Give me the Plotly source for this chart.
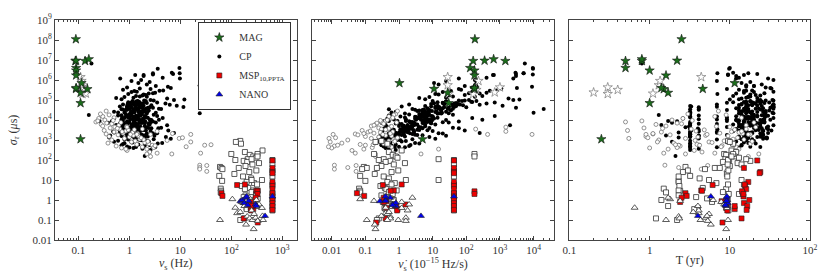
import plotly.graph_objects as go
from plotly.subplots import make_subplots

# ---------------- CP (filled black dots) ----------------
cp_sigma = ([6.6e6, 1.8e6, 1.8e6, 1.6e6, 2.2e6, 1.9e6, 3.6e6, 2.3e6, 2.0e6, 4.0e6,
             2.2e6, 1.2e6, 1.2e6, 4.6e5, 4.0e5, 5e5, 5.5e5, 6e5, 7e5, 8e5,
             9e5, 5e5, 1e6, 4.2e5, 1.3e6]
            + [1.1e5, 1.3e5, 1.5e5, 1.8e5, 2.0e5, 2.3e5, 2.6e5, 3.0e5, 3.5e5, 1.2e5,
               1.4e5, 1.7e5, 2.1e5, 2.5e5, 2.9e5, 3.3e5, 1.0e5, 1.6e5, 1.9e5, 2.2e5,
               2.8e5, 1.25e5, 1.45e5, 3.8e5, 1.05e5]
            + [2.1e4, 2.4e4, 2.7e4, 3.0e4, 3.3e4, 3.6e4, 4.0e4, 4.5e4, 5.0e4, 5.5e4,
               6.0e4, 6.6e4, 7.2e4, 8.0e4, 8.8e4, 9.5e4, 2.2e4, 2.6e4, 2.9e4, 3.2e4,
               3.5e4, 3.9e4, 4.3e4, 4.8e4, 5.3e4, 5.8e4, 6.4e4, 7.0e4, 7.7e4, 8.5e4,
               2.3e4, 2.8e4, 3.4e4, 4.1e4, 4.6e4, 5.2e4, 6.2e4, 7.5e4, 9.0e4, 3.5e4]
            + [5.2e3, 5.6e3, 6.0e3, 6.5e3, 7.0e3, 7.5e3, 8.0e3, 8.6e3, 9.2e3, 1.0e4,
               1.07e4, 1.15e4, 1.25e4, 1.35e4, 1.45e4, 1.55e4, 1.7e4, 1.85e4, 1.95e4, 5.4e3,
               5.9e3, 6.3e3, 6.8e3, 7.3e3, 7.9e3, 8.4e3, 9.0e3, 9.7e3, 1.04e4, 1.1e4,
               1.2e4, 1.3e4, 1.4e4, 1.5e4, 1.65e4, 1.8e4, 5.7e3, 6.7e3, 7.7e3, 8.8e3,
               1.02e4, 1.18e4, 1.33e4, 1.6e4, 1.9e4]
            + [1.5e3, 1.6e3, 1.75e3, 1.9e3, 2.0e3, 2.2e3, 2.4e3, 2.6e3, 2.8e3, 3.0e3,
               3.2e3, 3.5e3, 3.8e3, 4.1e3, 4.5e3, 4.9e3, 1.55e3, 1.7e3, 1.85e3, 2.1e3,
               2.3e3, 2.5e3, 2.7e3, 2.95e3, 3.3e3, 3.6e3, 4.0e3, 4.4e3, 4.8e3, 1.65e3,
               1.8e3, 2.05e3, 2.35e3, 2.65e3, 3.1e3, 3.4e3, 3.9e3, 4.3e3, 4.7e3, 2.25e3]
            + [3.2e2, 3.6e2, 4.0e2, 4.4e2, 4.8e2, 5.3e2, 5.8e2, 6.4e2, 7.0e2, 7.7e2,
               8.5e2, 9.3e2, 1.0e3, 1.1e3, 1.2e3, 1.3e3, 1.4e3, 4.2e2, 4.6e2, 5.0e2,
               5.5e2, 6.0e2, 6.7e2, 7.4e2, 8.1e2, 8.9e2, 9.7e2, 1.05e3, 1.15e3, 1.25e3,
               1.35e3, 4.5e2, 5.6e2, 6.9e2, 1.6e2]
            + [1.1e3, 1.4e3, 1.8e3, 2.3e3, 2.9e3, 3.7e3, 4.7e3, 6.0e3, 7.6e3, 9.7e3,
               1.2e4, 1.6e4, 2.0e4, 2.5e4, 3.2e4, 4.1e4, 5.2e4, 6.6e4, 8.4e4, 1.0e5,
               1.05e3, 1.35e3, 1.7e3, 2.15e3, 2.75e3, 3.5e3, 4.4e3, 5.6e3, 7.1e3, 9.0e3,
               1.15e4, 1.45e4, 1.85e4, 2.35e4, 3.0e4, 3.8e4, 4.8e4, 6.1e4, 7.8e4, 9.5e4,
               1.25e3, 1.55e3, 1.95e3, 2.45e3, 3.1e3, 3.9e3, 5.0e3, 6.3e3, 8.0e3, 1.02e4,
               1.3e4, 1.65e4, 2.1e4, 2.65e4, 3.35e4, 4.3e4, 5.5e4, 7.0e4, 8.9e4, 6.8e4,
               1.0e3, 1.9e3, 2.5e3, 3.3e3, 4.2e3, 5.3e3, 6.8e3, 8.6e3, 1.1e4, 1.4e4,
               1.75e4, 2.2e4, 2.8e4, 3.6e4, 4.6e4, 5.9e4, 7.4e4, 1.5e3, 2.7e3, 4.6e3,
               7.3e3, 1.25e4, 2.05e4, 3.1e4, 5.0e4, 1.6e3, 3.0e3, 5.1e3, 8.3e3, 1.55e4,
               2.4e4, 3.9e4, 6.3e4, 1.2e3, 2.1e3, 3.6e3, 6.5e3, 1.05e4, 1.7e4, 2.7e4,
               4.4e4, 8.1e4, 1.45e3, 2.2e3, 3.4e3, 5.8e3, 9.4e3, 1.5e4, 2.6e4, 3.4e4,
               5.6e4, 1.3e3, 2.0e3, 3.2e3, 5.4e3, 8.8e3, 1.35e4, 2.3e4, 3.7e4, 6.0e4])
cp_nu = ([0.18, 1.3, 1.9, 1.9, 2.9, 2.9, 3.6, 6.8, 7.2, 9.6,
          9.7, 9.8, 0.66, 5.7, 6.5, 24, 24, 2.2, 1.5, 2.5,
          1.1, 3.3, 1.7, 0.9, 4.5]
         + [0.7, 1.2, 1.6, 2.1, 0.95, 3.2, 1.4, 4.6, 2.6, 5.5,
            0.8, 1.8, 2.4, 1.1, 3.9, 0.75, 7.5, 1.35, 1.9, 2.9,
            1.25, 0.55, 2.2, 1.6, 12]
         + [1.1, 0.6, 2.3, 1.5, 0.9, 3.8, 1.8, 11.5, 1.3, 2.7,
            0.75, 5.1, 1.6, 2.0, 1.15, 3.0, 24, 0.5, 1.9, 0.85,
            4.2, 1.4, 2.5, 0.65, 1.7, 6.2, 1.05, 2.2, 0.95, 1.45,
            3.3, 1.25, 0.7, 2.9, 1.55, 8.5, 1.2, 3.5, 2.1, 1.0]
         + [1.2, 0.55, 2.4, 0.8, 1.6, 3.3, 1.0, 0.45, 1.9, 2.7,
            0.7, 1.35, 4.5, 0.95, 2.1, 1.15, 0.6, 3.0, 1.75, 5.5,
            1.45, 0.9, 2.0, 0.38, 1.25, 2.9, 0.75, 1.55, 3.8, 1.05,
            0.5, 2.3, 1.3, 0.85, 1.65, 0.16, 1.1, 0.65, 2.6, 0.26,
            1.4, 1.85, 0.72, 3.5, 1.0]
         + [1.3, 0.7, 2.2, 0.9, 1.6, 3.5, 0.5, 1.1, 2.6, 0.8,
            1.9, 1.25, 0.6, 4.2, 1.45, 2.0, 0.95, 0.42, 1.7, 2.9,
            1.05, 0.65, 1.5, 5.8, 0.85, 1.35, 2.4, 0.55, 1.15, 3.1,
            1.8, 0.75, 1.2, 0.48, 2.1, 1.0, 3.7, 1.55, 0.68, 7.5]
         + [2.6, 1.8, 1.2, 3.2, 0.9, 2.0, 1.4, 0.75, 4.4, 1.1,
            2.4, 0.6, 1.6, 3.0, 0.85, 1.3, 5.2, 1.0, 1.9, 2.8,
            0.7, 1.5, 3.6, 1.15, 0.5, 2.2, 1.7, 0.95, 6.5, 1.25,
            0.4, 1.35, 2.5, 0.8, 2.0]
         + [1.4, 0.9, 2.1, 1.1, 1.7, 0.75, 1.3, 2.5, 1.0, 1.6,
            1.2, 2.0, 0.85, 1.5, 1.25, 2.3, 1.05, 1.8, 1.35, 2.6,
            0.8, 1.6, 1.2, 2.8, 0.95, 1.45, 2.2, 1.1, 1.75, 0.7,
            1.9, 1.0, 1.55, 0.8, 2.4, 1.3, 0.9, 1.65, 1.15, 1.95,
            2.0, 1.15, 0.65, 1.5, 1.25, 2.7, 0.85, 1.4, 1.9, 1.2,
            1.0, 1.35, 2.2, 1.1, 0.75, 1.6, 1.85, 1.2, 1.45, 0.95,
            1.7, 1.35, 0.8, 1.95, 1.05, 1.3, 2.4, 0.9, 1.55, 1.25,
            0.7, 1.75, 1.15, 2.1, 0.9, 1.4, 1.1, 2.3, 1.0, 1.65,
            1.2, 0.8, 1.6, 1.3, 1.9, 1.05, 1.45, 0.75, 2.05, 1.5,
            1.25, 0.9, 1.5, 1.8, 0.85, 1.15, 1.35, 2.5, 0.95, 1.7,
            1.1, 1.55, 1.0, 2.2, 1.6, 0.88, 1.25, 1.45, 2.0, 1.2,
            1.3, 1.9, 1.45, 0.82, 1.15, 1.7, 2.1, 1.05, 1.5, 0.92])
cp_nudot = ([5500, 620, 660, 3000, 5100, 9500, 9600, 2900, 3000, 9500,
             5000, 2500, 60, 9000, 3200, 200, 180, 15, 11, 200,
             25, 90, 180, 150, 400]
            + [6, 25, 40, 90, 12, 400, 150, 800, 60, 1800,
               8, 30, 250, 20, 500, 70, 2500, 300, 15, 120,
               35, 4, 180, 1100, 3800]
            + [1.5, 0.6, 8, 4, 3, 40, 12, 15, 6, 80,
               2, 400, 20, 150, 10, 60, 30, 0.8, 18, 5,
               2e4, 7, 100, 1.2, 35, 250, 9, 50, 14, 25,
               1e4, 3.5, 0.5, 3000, 45, 1200, 22, 700, 200, 2.5]
            + [1.8, 0.4, 12, 1.0, 5, 30, 2.5, 0.35, 8, 25,
               0.7, 3, 150, 1.5, 10, 4, 0.5, 40, 6, 2000,
               3.5, 1.2, 9, 0.3, 2.2, 60, 0.9, 5.5, 300, 1.6,
               0.45, 14, 3.2, 1.1, 7, 0.6, 2.8, 0.8, 20, 0.5,
               4.5, 11, 0.65, 700, 2.0]
            + [1.5, 0.4, 5, 0.8, 2.5, 15, 0.3, 1.2, 10, 0.6,
               4, 1.8, 0.35, 40, 2.2, 6, 0.9, 0.28, 3, 20,
               1.0, 0.5, 2.8, 90, 0.7, 1.6, 8, 0.45, 1.3, 25,
               3.5, 0.55, 1.4, 0.32, 7, 1.1, 60, 2.0, 0.42, 250]
            + [0.8, 0.5, 0.4, 1.5, 0.35, 0.6, 0.45, 0.3, 3, 0.5,
               1.2, 0.28, 0.9, 2.5, 0.32, 0.7, 8, 0.4, 1.0, 2.0,
               0.3, 0.8, 4, 0.55, 0.26, 1.6, 1.1, 0.42, 12, 0.65,
               0.25, 0.75, 2.2, 0.33, 0.9]
            + [0.5, 0.35, 1.2, 0.8, 1.5, 0.6, 2.5, 6, 2.2, 5,
               3.5, 9, 4, 12, 8, 30, 14, 45, 25, 120,
               0.4, 0.9, 0.55, 2.8, 0.7, 1.3, 4.5, 1.8, 5.5, 1.6,
               10, 3, 8, 5, 35, 15, 9, 60, 28, 90,
               0.45, 0.75, 0.5, 1.8, 1.1, 5, 1.0, 2.6, 7, 3.2,
               4.2, 7, 18, 6, 5.5, 22, 40, 20, 75, 11,
               0.3, 1.4, 0.6, 3.5, 1.6, 2.4, 9, 2.0, 6.5, 4.8,
               4.5, 16, 9.5, 30, 12, 38, 24, 0.7, 1.3, 3.8,
               2.8, 4.0, 14, 7.5, 50, 0.9, 1.9, 1.4, 6, 10,
               7, 20, 55, 0.5, 0.95, 2.3, 3.0, 8, 5.2, 13,
               16, 140, 0.65, 2.1, 1.7, 2.9, 9.5, 6.5, 25, 17,
               35, 0.55, 1.0, 2.7, 2.5, 7.5, 5.8, 19, 28, 65])
cp_T = ([0.8, 9.5, 15, 12, 17, 9.5, 9.8, 11, 22, 10,
         7, 12, 30, 16, 32, 20, 16, 25, 14, 18,
         6.9, 20, 35, 28, 13]
        + [13, 16, 18, 21, 7, 15, 35, 19, 9.2, 14,
           17, 24, 12, 20, 16, 13, 34, 11, 18, 27,
           15, 22, 17, 33, 10]
        + [3.2, 3.2, 14, 17, 4.1, 21, 16, 35, 3.2, 19,
           6.9, 24, 9.2, 15, 18, 35, 35, 3.2, 13, 9.2,
           17, 12, 16, 3.3, 22, 35, 14, 20, 11, 18,
           28, 15, 3.2, 13, 6.9, 34, 19, 16, 23, 4.1]
        + [3.2, 1.4, 15, 4.1, 18, 21, 3.2, 2.2, 13, 24,
           6.9, 16, 35, 3.2, 17, 12, 4.1, 19, 14, 35,
           11, 3.2, 20, 1.9, 15, 27, 9.2, 13, 32, 4.1,
           2.6, 18, 16, 6.9, 22, 1.3, 14, 3.2, 25, 1.7,
           12, 17, 9.2, 28, 19]
        + [3.2, 4.1, 15, 3.2, 17, 19, 2.3, 6.9, 13, 3.3,
           16, 12, 4.0, 22, 9.2, 14, 3.2, 1.6, 18, 24,
           6.9, 3.2, 11, 26, 4.1, 15, 20, 2.8, 13, 17,
           9.2, 3.2, 16, 4.1, 21, 7.0, 25, 14, 3.1, 30]
        + [3.2, 4.1, 3.2, 6.9, 3.2, 14, 4.1, 3.2, 17, 9.2,
           12, 3.2, 16, 19, 4.1, 15, 22, 13, 18, 3.2,
           2.3, 11, 21, 15, 1.9, 20, 16, 6.9, 26, 17,
           2.3, 24, 14, 3.2, 2.1]
        + [14, 3.2, 26, 18, 13, 3.2, 30, 15, 27, 12,
           19, 28, 3.2, 22, 16, 32, 35, 21, 25, 24,
           16, 29, 4.1, 17, 26, 3.2, 15, 24, 18, 12.5,
           27, 15, 20, 3.2, 31, 23, 16, 35, 19, 28,
           13, 25, 3.2, 19, 16, 29, 21, 6.9, 17, 26,
           18, 30, 13, 19, 24, 35, 17, 27, 22, 16,
           15, 26, 3.2, 14, 29, 16, 23, 15, 9.2, 20,
           25, 16, 28, 15, 35, 19, 31, 13, 16, 24,
           21, 15, 27, 17, 25, 16, 33, 18, 15, 3.2,
           18, 26, 16, 29, 17, 22, 13, 20, 27, 17,
           4.1, 16, 24, 18, 30, 17, 19, 22, 26, 16,
           13, 28, 15, 23, 19, 25, 18, 34, 35, 14])

# ---------------- CP, open circles ----------------
oc_sigma = [8e3, 1.2e4, 6e3, 9e3, 5e3, 3e3, 2e3, 1.5e3, 1e3, 7e2,
            5e2, 4e2, 3e2, 2.5e2, 4e3, 2.5e3, 1.8e3, 1.2e3, 8e2, 6e2,
            1.5e4, 2e4, 1e4, 7e3, 3.5e3, 2.2e3, 1.4e3, 9e2, 4.5e2, 3.5e2,
            6.5e3, 4.5e3, 2.8e3, 1.7e3, 1.1e3, 7.5e2, 5.5e2, 2.8e4, 1.8e4, 1.3e4,
            5.5e3, 3.2e3, 2.4e3, 1.6e3, 1.05e3, 6.5e2, 4.2e2, 2.2e2, 1.5e2, 3.8e3,
            2.6e3, 1.9e3, 1.3e3, 8.5e2, 5.2e2, 9.5e3, 7.5e3, 4.8e3, 3.3e3, 2.1e3,
            1.2e3, 1.9e3, 8e2, 5.5e2, 5.8e2, 2.2e2, 55, 42, 35, 53,
            27, 2e2, 1.3e3, 2.1e3, 4.6e2, 9.5e2,
            3.5e3, 1.9e3, 4.4e3, 2.7e3, 1.9e3, 2e2, 3.5e2]
oc_nu = [0.22, 0.25, 0.28, 0.24, 0.3, 0.32, 0.35, 0.4, 0.45, 0.38,
         0.55, 0.7, 0.9, 2.5, 0.42, 0.5, 0.6, 0.8, 1.1, 1.4,
         0.3, 0.27, 0.33, 0.36, 0.65, 0.75, 1.0, 1.3, 1.8, 2.2,
         0.45, 0.52, 0.85, 1.2, 1.6, 2.0, 2.8, 0.35, 0.4, 0.5,
         0.62, 0.95, 1.15, 1.5, 1.9, 2.4, 3.0, 3.5, 2.6, 0.58,
         0.72, 1.05, 1.7, 2.3, 3.2, 0.48, 0.68, 0.88, 1.25, 1.45,
         9.5, 16, 16, 30, 40, 25, 24, 24, 24, 33,
         33, 6.8, 11, 7, 13, 5.5,
         1.8, 2.6, 0.9, 3.5, 1.4, 2.2, 0.85]
oc_nudot = [0.3, 0.6, 0.2, 0.4, 0.15, 0.08, 0.05, 0.1, 0.03, 0.02,
            0.012, 0.01, 0.04, 0.5, 0.25, 0.12, 0.06, 0.15, 0.35, 0.07,
            0.5, 0.8, 0.45, 0.22, 0.3, 0.18, 0.25, 0.5, 0.6, 0.09,
            0.35, 0.55, 0.14, 0.4, 0.7, 0.2, 0.015, 0.9, 0.7, 0.65,
            0.18, 0.45, 0.28, 0.6, 0.8, 0.35, 0.16, 0.7, 0.2, 0.5,
            0.65, 0.33, 0.9, 0.75, 0.5, 0.28, 0.85, 0.6, 0.4, 0.55,
            0.0083, 0.011, 0.009, 0.1, 0.17, 0.05, 0.012, 0.03, 0.012, 0.053,
            0.053, 0.2, 0.013, 0.09, 0.008, 0.3,
            190, 430, 1500, 1500, 9000, 4.5, 15]
oc_T = [0.5, 2.6, 1.2, 0.8, 1.6, 0.53, 1.1, 0.9, 1.3, 2.0,
        2.4, 1.0, 3.6, 4.5, 0.85, 1.4, 1.8, 2.8, 5.5, 3.9,
        6.5, 3.0, 1.9, 2.2, 3.3, 7.5, 4.0, 8.5, 12, 1.7,
        2.5, 10, 3.8, 5.0, 11, 6.0, 2.3, 7.2, 9.0, 14,
        16, 4.8, 13, 9.5, 15, 18, 2.2, 1.5, 17, 1.45,
        10.5, 5.2, 12.5, 19, 8.0, 3.4, 20, 6.8, 11.5, 14.5,
        0.55, 0.9, 1.25, 4.2, 2.1, 6.5, 1.55, 2.3, 4.4, 5.3,
        9, 2.8, 0.95, 1.1, 7.8, 3.7,
        16, 18, 21, 14, 17, 23, 13]

# ---------------- MSP, open squares ----------------
sq_sigma = [45, 40, 35, 16, 9, 3.7, 2.9,
            900, 650, 800, 300, 250, 200, 180, 150, 130, 110,
            100, 90, 80, 70, 60, 50, 40, 30, 25, 20,
            15, 12, 10, 8, 7, 6, 5, 4, 3.5, 3,
            2.5, 2, 1.7, 1.4, 1.2, 1.0, 0.8, 0.6, 0.5, 0.4,
            100, 60, 30, 15, 6, 2, 1, 0.5, 0.3,
            200, 150, 110, 10, 2.4, 0.12, 0.1, 0.35]
sq_nu = [60, 64, 67, 58, 66, 62, 63,
         150, 155, 123, 410, 185, 100, 230, 270, 300, 210,
         120, 175, 205, 350, 260, 190, 140, 310, 225, 115,
         170, 245, 400, 200, 280, 320, 160, 215, 185, 270,
         250, 305, 190, 175, 330, 290, 165, 240, 320, 200,
         642, 642, 642, 642, 642, 642, 642, 642, 642,
         327, 327, 250, 250, 62, 180, 150, 200]
sq_nudot = [0.09, 0.11, 0.08, 0.07, 0.1, 0.065, 0.07,
            0.3, 0.45, 0.2, 1.2, 0.5, 0.18, 0.65, 0.8, 0.9, 0.35,
            0.25, 0.55, 0.4, 1.5, 0.7, 0.3, 0.22, 0.95, 0.6, 0.19,
            0.35, 0.5, 1.6, 0.45, 0.75, 0.6, 0.28, 0.38, 0.42, 0.85,
            0.5, 0.65, 0.3, 0.42, 0.55, 0.7, 0.33, 0.48, 0.62, 0.37,
            43, 43, 43, 43, 43, 43, 43, 43, 43,
            175, 175, 15, 15, 0.07, 0.25, 0.22, 0.4]
sq_T = [2.8, 6.5, 4.9, 3.2, 2.3, 1.5, 2.4,
        9.5, 11, 10, 10.5, 12, 8.5, 9, 11.5, 13, 8.8,
        9.8, 18, 8.2, 12.5, 14, 10, 7.5, 3.0, 2.6, 9.2,
        2.3, 4.2, 5.5, 2.3, 6.8, 15, 2.35, 4.6, 9, 2.3,
        8.2, 13, 2.3, 3.8, 5.2, 1.4, 6.0, 8.8, 1.7, 4.0,
        9.5, 9.4, 9.6, 9.3, 9.5, 9.7, 9.4, 9.5, 9.6,
        11, 10.5, 16, 14, 1.6, 1.2, 2.2, 3.6]

# ---------------- MSP_10,PPTA, red squares ----------------
msp_sigma = [95, 40, 25, 22, 8, 5, 3.5, 2.2, 1.5, 1.0, 0.7, 0.5, 0.32,
             2.2, 1.6, 5.6, 6.0, 3.0, 2.9, 2.7, 2.0, 0.87, 0.6, 0.4,
             0.35, 0.3, 0.12, 0.075, 0.8, 1.3, 0.5]
msp_nu = [642, 642, 642, 642, 642, 642, 642, 642, 642, 642, 642, 642, 642,
          64, 67, 130, 185, 330, 310, 327, 327, 210, 190, 240,
          270, 245, 175, 330, 245, 300, 260]
msp_nudot = [43, 43, 43, 43, 43, 43, 43, 43, 43, 43, 43, 43, 43,
             0.056, 0.092, 0.33, 1.2, 0.7, 0.56, 175, 175, 0.42, 1.55, 0.42,
             0.9, 0.88, 0.4, 0.21, 0.35, 0.35, 0.83]
msp_T = [22, 15, 24, 23.5, 17, 15.5, 16, 14.5, 14.8, 17.5, 15, 16.5, 16.2,
         2.8, 2.9, 6.1, 15.3, 4.4, 4.5, 14.2, 14.8, 7.9, 9.2, 9.0,
         11.5, 9.3, 14, 8.1, 2.4, 2.5, 11.5]

# ---------------- NANO, open triangles ----------------
tr_sigma = [0.1, 1.1, 0.41, 0.22, 0.059, 0.035, 0.15, 0.12, 0.1, 0.13,
            0.09, 0.5, 0.8, 1.3, 0.3, 0.2, 0.9, 0.6, 0.4, 0.16,
            0.1, 1.0, 0.25]
tr_nu = [60, 105, 120, 130, 195, 275, 205, 230, 260, 300,
         330, 180, 160, 225, 250, 280, 195, 350, 400, 410,
         420, 310, 150]
tr_nudot = [0.11, 0.07, 0.4, 0.4, 0.19, 0.2, 0.55, 0.55, 0.95, 1.6,
            1.6, 0.8, 1.2, 2.5, 1.8, 0.45, 0.18, 2.0, 1.2, 0.3,
            0.45, 0.7, 0.5]
tr_T = [1.6, 1.8, 0.65, 4.1, 5.8, 9.0, 2.3, 2.35, 4.3, 5.0,
        5.3, 4.0, 7.8, 1.7, 4.1, 5.5, 2.4, 8.5, 9.2, 5.2,
        9.5, 6.2, 3.5]

# ---------------- NANO, blue triangles ----------------
nano_sigma = [0.87, 1.0, 1.3, 1.5, 0.6, 0.5, 0.7, 0.16, 1.5, 0.9, 0.55]
nano_nu = [150, 165, 190, 200, 300, 310, 180, 460, 642, 220, 210]
nano_nudot = [0.27, 0.4, 0.55, 0.4, 0.65, 0.8, 0.8, 4.5, 43, 0.4, 0.65]
nano_T = [9.0, 9.3, 9.1, 9.2, 8.9, 9.0, 9.4, 4.0, 5.8, 9.1, 8.8]

# ---------------- MAG, green stars ----------------
mag_sigma = [1.1e8, 9e6, 9.3e6, 9e6, 1.1e7, 4e6, 3e6, 1.7e6, 7e5, 3.6e5,
             3.5e5, 2.3e5, 4e5, 7e4, 1.1e3]
mag_nu = [0.089, 0.087, 0.09, 0.135, 0.16, 0.09, 0.09, 0.09, 0.115, 0.09,
          0.15, 0.11, 0.09, 0.11, 0.11]
mag_nudot = [180, 160, 350, 1450, 650, 130, 175, 175, 1.03, 11,
             175, 28, 175, 30, 5]
mag_T = [2.5, 0.5, 2.2, 0.8, 0.8, 0.5, 1.0, 1.6, 11.5, 4.6,
         1.5, 1.7, 1.4, 1.0, 0.25]

# ---------------- MAG, open stars ----------------
os_sigma = [1.4e6, 5.5e5, 4.3e5, 2.4e5, 3.2e5, 2e5, 2.1e5, 9e5]
os_nu = [0.11, 0.125, 0.115, 0.13, 0.12, 0.12, 0.14, 0.115]
os_nudot = [28, 28, 1000, 700, 200, 160, 30, 230]
os_T = [4.4, 1.3, 0.3, 0.2, 0.4, 0.3, 1.1, 1.35]

groups = {
    "cp": (cp_sigma, cp_nu, cp_nudot, cp_T),
    "oc": (oc_sigma, oc_nu, oc_nudot, oc_T),
    "sq": (sq_sigma, sq_nu, sq_nudot, sq_T),
    "msp": (msp_sigma, msp_nu, msp_nudot, msp_T),
    "tr": (tr_sigma, tr_nu, tr_nudot, tr_T),
    "nano": (nano_sigma, nano_nu, nano_nudot, nano_T),
    "mag": (mag_sigma, mag_nu, mag_nudot, mag_T),
    "os": (os_sigma, os_nu, os_nudot, os_T),
}
for k, v in groups.items():
    lens = [len(a) for a in v]
    if len(set(lens)) != 1:
        raise ValueError(f"length mismatch in {k}: {lens}")

fig = make_subplots(rows=1, cols=3, shared_yaxes=True, horizontal_spacing=0.02)

styles = [
    ("cp", "CP", True, dict(symbol="circle", size=4, color="black", line=dict(width=0))),
    ("oc", "CP open", False, dict(symbol="circle", size=4, color="white", line=dict(width=0.7, color="#666"))),
    ("sq", "MSP open", False, dict(symbol="square", size=5, color="white", line=dict(width=0.8, color="#333"))),
    ("msp", "MSP<sub>10,PPTA</sub>", True, dict(symbol="square", size=5, color="#ee0000", line=dict(width=0.6, color="#222"))),
    ("tr", "NANO open", False, dict(symbol="triangle-up", size=6, color="white", line=dict(width=0.8, color="#333"))),
    ("nano", "NANO", True, dict(symbol="triangle-up", size=6, color="#0000ee", line=dict(width=0.6, color="#222"))),
    ("os", "MAG open", False, dict(symbol="star", size=7, color="white", line=dict(width=0.7, color="#777"))),
    ("mag", "MAG", True, dict(symbol="star", size=7, color="#1b6e1b", line=dict(width=0.6, color="#111"))),
]
legend_rank = {"MAG": 1, "CP": 2, "MSP<sub>10,PPTA</sub>": 3, "NANO": 4}

for key, name, inleg, marker in styles:
    sig, nu, nudot, T = groups[key]
    for col, xs in enumerate([nu, nudot, T], start=1):
        fig.add_trace(go.Scatter(
            x=xs, y=sig, mode="markers", marker=marker, name=name,
            showlegend=(inleg and col == 1), legendgroup=name,
            legendrank=legend_rank.get(name, 100), hoverinfo="skip"),
            row=1, col=col)

W, H = 830, 277
L, R, T0, B = 44, 17, 14, 37
pw = W - L - R
ph = H - T0 - B
doms = [(0, 246 / pw), ((306 - L) / pw, (552 - L) / pw), ((568 - L) / pw, 1.0)]

def sup(e):
    return "10<sup>%d</sup>" % e

x_ticks = [
    ([0.1, 1, 10, 100, 1000], ["0.1", "1", "10", sup(2), sup(3)], [-1.46, 3.28]),
    ([0.01, 0.1, 1, 10, 100, 1000, 1e4], ["0.01", "0.1", "1", "10", sup(2), sup(3), sup(4)], [-2.58, 4.6]),
    ([0.1, 1, 10, 100], ["0.1", "1", "10", sup(2)], [-1, 2]),
]
x_titles = ["<i>ν</i><sub>s</sub> (Hz)",
            "<i>ν̇</i><sub>s</sub> (10<sup>−15</sup> Hz/s)",
            "T (yr)"]

def minor_vals(lo, hi):
    out = []
    for e in range(lo, hi + 1):
        for m in range(2, 10):
            out.append(m * 10.0 ** e)
    return out

axis_common = dict(type="log", showgrid=False, zeroline=False, showline=True,
                   linecolor="#444", linewidth=1, mirror="ticks", ticks="inside",
                   ticklen=4, tickwidth=0.8, tickcolor="#444")

for i in range(3):
    tv, tt, rng = x_ticks[i]
    ax = dict(axis_common)
    ax.update(domain=list(doms[i]), range=rng, tickmode="array", tickvals=tv, ticktext=tt,
              title=dict(text=x_titles[i], standoff=0, font=dict(size=12)),
              minor=dict(ticks="inside", ticklen=2, tickcolor="#444", tickmode="array",
                         tickvals=minor_vals(-3, 4), showgrid=False))
    fig.update_xaxes(**ax, row=1, col=i + 1)

y_tv = [0.01, 0.1, 1, 10, 100, 1e3, 1e4, 1e5, 1e6, 1e7, 1e8, 1e9]
y_tt = ["0.01", "0.1", "1", "10"] + [sup(e) for e in range(2, 10)]
for i in range(3):
    ay = dict(axis_common)
    ay.update(range=[-2, 9], tickmode="array", tickvals=y_tv, ticktext=y_tt,
              showticklabels=(i == 0))
    if i == 0:
        ay.update(title=dict(text="<i>σ</i><sub><i>τ</i></sub> (<i>μ</i>s)", standoff=12, font=dict(size=12)))
    fig.update_yaxes(**ay, row=1, col=i + 1)

fig.update_layout(
    width=W, height=H,
    margin=dict(l=L, r=R, t=T0, b=B),
    paper_bgcolor="white", plot_bgcolor="white",
    font=dict(family="Liberation Serif", size=11, color="#333"),
    legend=dict(x=(190 - L) / pw, xanchor="left", y=1 - 2 / ph, yanchor="top",
                bordercolor="#333", borderwidth=1, bgcolor="white",
                font=dict(size=10), tracegroupgap=0, itemwidth=30),
)

fig.write_html("out.html", config={"displayModeBar": False},
               post_script="document.body.style.margin='0';")
